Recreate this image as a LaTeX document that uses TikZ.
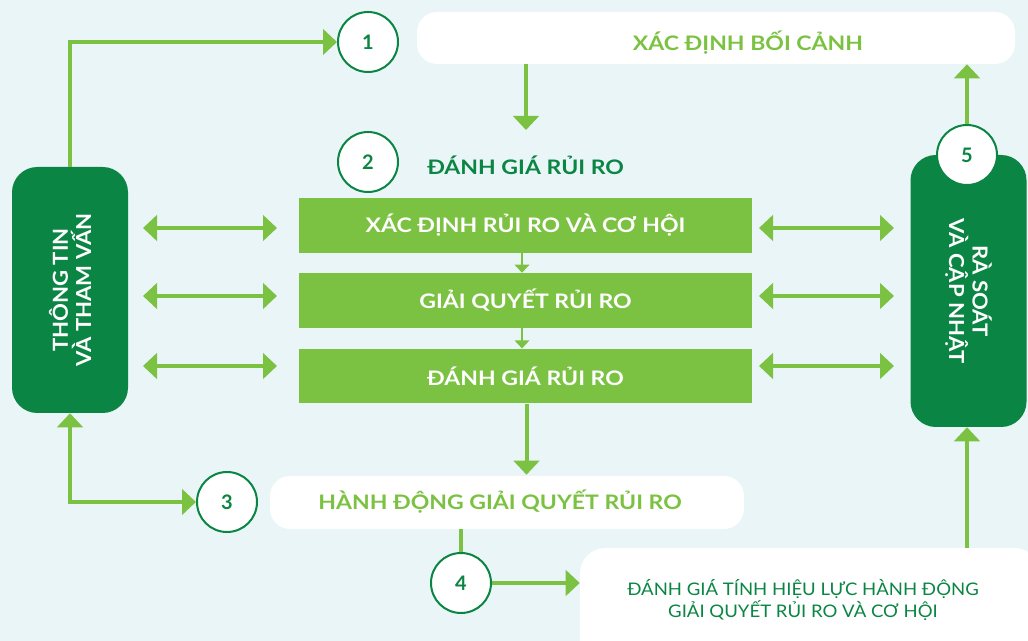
\documentclass[tikz,border=0pt]{standalone}
\usepackage{fontspec}
\setmainfont{Lato}
\newfontfamily\widefont{Lato}[FakeStretch=1.15]
\newfontfamily\evalfont{Lato}[FakeStretch=1.07]
\usetikzlibrary{arrows.meta,calc}
\definecolor{bg}{HTML}{E9F5F7}
\definecolor{dkg}{HTML}{0A8543}
\definecolor{lg}{HTML}{7CC242}
\tikzset{
  numc/.style={circle, draw=dkg, line width=1.5pt, fill=white, minimum size=45pt, inner sep=0pt,
    text=dkg, font=\bfseries\fontsize{15}{15}\selectfont},
  wbox/.style={fill=white, rounded corners=15pt, inner sep=0pt},
  gbox/.style={fill=lg, minimum width=339.75pt, minimum height=41pt, inner sep=0pt,
    text=white, font=\widefont\bfseries\fontsize{15}{15}\selectfont},
  dbox/.style={fill=dkg, rounded corners=19pt, minimum width=87pt, inner sep=0pt},
  vtext/.style={text=white, align=center, font=\evalfont\bfseries\fontsize{15.5}{17.5}\selectfont},
  ltext/.style={text=lg, inner sep=0pt, font=\widefont\bfseries\fontsize{15}{15}\selectfont},
  conn/.style={draw=lg, line width=3pt},
  tip/.style={-{Triangle[width=19pt,length=10.5pt]}},
  dtip/.style={{Triangle[width=19pt,length=10.5pt]}-{Triangle[width=19pt,length=10.5pt]}},
  thin/.style={draw=lg, line width=1.1pt, -{Triangle[width=11pt,length=6pt]}},
}
\begin{document}
\begin{tikzpicture}[x=0.75pt,y=-0.75pt]
\fill[bg] (0,0) rectangle (1028,641);
\useasboundingbox (0,0) rectangle (1028,641);
\clip (0,0) rectangle (1028,641);

% boxes
\node[wbox, minimum width=448.5pt, minimum height=39pt] (ctx) at (716,38) {};
\node[ltext] (ctxt) at (748,43) {XÁC ĐỊNH BỐI CẢNH};

\node[dbox, minimum height=184.5pt] (info) at (70,290) {};
\node[vtext, rotate=90] (infot) at (info.center) {THÔNG TIN\\VÀ THAM VẤN};

\node[dbox, minimum height=204pt] (rev) at (968.5,291) {};
\node[vtext, rotate=-90] (revt) at (rev.center) {RÀ SOÁT\\VÀ CẬP NHẬT};

\node[anchor=west, inner sep=0pt, text=dkg, font=\widefont\bfseries\fontsize{15}{15}\selectfont] (h2) at (427,165) {ĐÁNH GIÁ RỦI RO};

\node[gbox] (b1) at (525.5,225.3) {XÁC ĐỊNH RỦI RO VÀ CƠ HỘI};
\node[gbox] (b2) at (525.5,300.3) {GIẢI QUYẾT RỦI RO};
\node[gbox] (b3) at (525.5,376) {ĐÁNH GIÁ RỦI RO};

\node[wbox, minimum width=355.5pt, minimum height=39.75pt] (act) at (507,502.5) {};
\node[ltext] (actt) at (500,502) {HÀNH ĐỘNG GIẢI QUYẾT RỦI RO};

\node[wbox, rounded corners=19pt, minimum width=345pt, minimum height=91.5pt] (eval) at (810,609) {};
\node[text=dkg, align=center, font=\evalfont\fontsize{13}{14.6}\selectfont] (evalt) at (803,600)
  {ĐÁNH GIÁ TÍNH HIỆU LỰC HÀNH ĐỘNG\\GIẢI QUYẾT RỦI RO VÀ CƠ HỘI};

% circles
\node[numc] (c1) at (368,42) {1};
\node[numc] (c2) at (368,162) {2};
\node[numc] (c3) at (227,502) {3};
\node[numc] (c4) at (461,583) {4};
\node[numc] (c5) at (967,155) {5};

% coordinates
\coordinate (a2) at (526,130);
\coordinate (sx) at (522,0);
\coordinate (ax) at (526.5,0);

% connectors
\draw[conn, tip] (info.north) |- (c1.west);
\draw[conn, dtip] (info.south) |- (c3.west);
\draw[conn, tip] (ctx.south -| a2) -- (a2);
\draw[thin] (b1.south -| sx) -- (b2.north -| sx);
\draw[thin] (b2.south -| sx) -- (b3.north -| sx);
\draw[conn, tip] (b3.south -| ax) -- ([yshift=0.75pt]act.north -| ax);
\draw[conn] (act.south -| c4) -- (c4.north);
\draw[conn, tip] (c4.east) -- (eval.west |- c4);
\draw[conn, tip] (eval.north -| c5) -- (rev.south -| c5);
\draw[conn, tip] (c5.north) -- (ctx.south -| c5);

% double arrows
\foreach \y [count=\i] in {228,296,366}{
  \coordinate (la\i) at (143,\y);
  \coordinate (lb\i) at (277,\y);
  \coordinate (ra\i) at (759,\y);
  \coordinate (rb\i) at (894,\y);
  \draw[conn, dtip] (la\i) -- (lb\i);
  \draw[conn, dtip] (ra\i) -- (rb\i);
}
\end{tikzpicture}
\end{document}
